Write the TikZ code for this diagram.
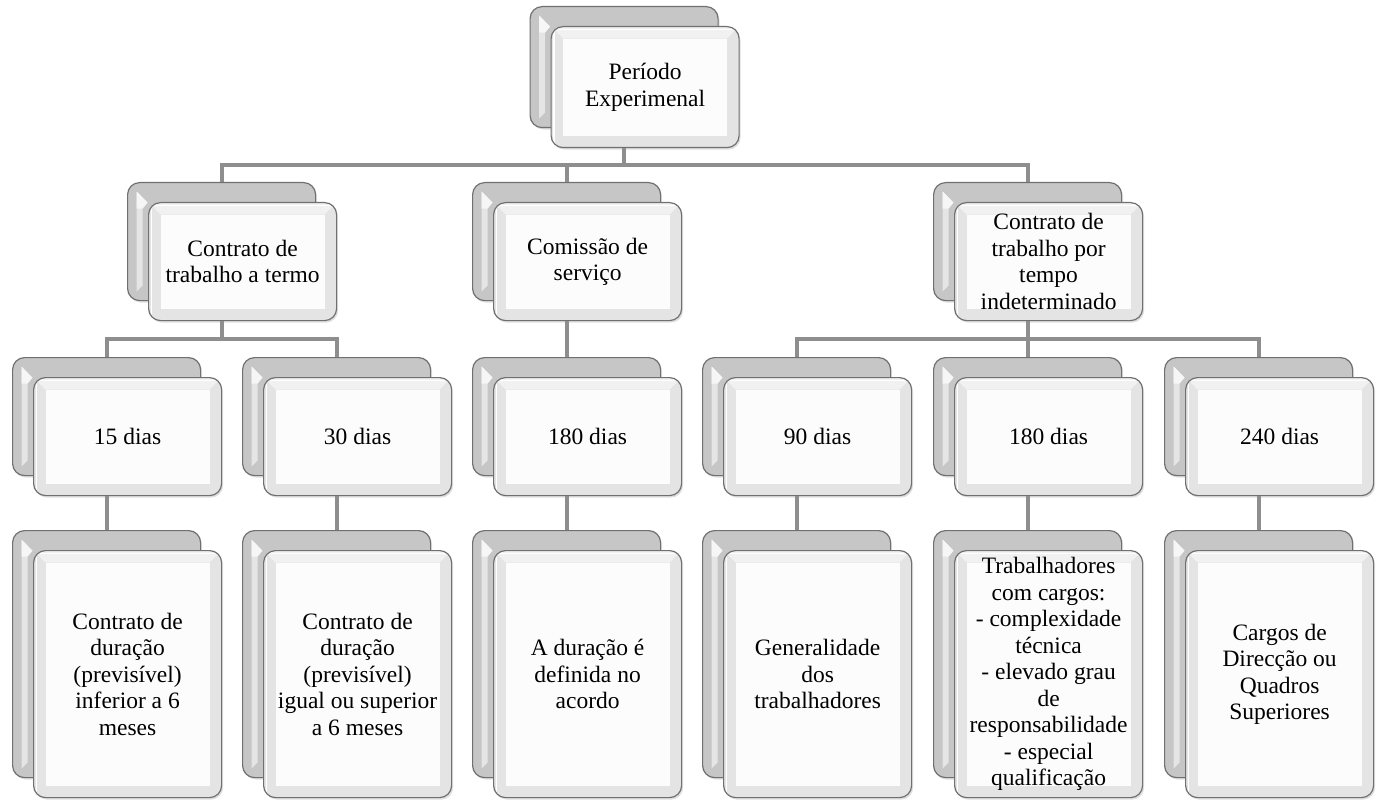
\documentclass[tikz,border=0pt]{standalone}
\usepackage{fontspec}
\setmainfont{Liberation Serif}
\usetikzlibrary{shadows}

\definecolor{linkgray}{HTML}{8E8E8E}
\definecolor{edgegray}{HTML}{707070}
\definecolor{backgray}{HTML}{C6C6C6}
\definecolor{bevelgray}{HTML}{E4E4E4}
\definecolor{beveltop}{HTML}{F1F1F1}
\definecolor{facegray}{HTML}{FCFCFC}

\tikzset{
  cardbase/.style={anchor=north west, rounded corners=12pt, draw=edgegray,
    line width=1.2pt, minimum width=188pt, inner sep=0pt,
    drop shadow={shadow xshift=1.5pt, shadow yshift=-2pt, opacity=.25}},
  backcard/.style={cardbase, fill=backgray,
    path picture={
      \coordinate (sw) at (path picture bounding box.south west);
      \coordinate (nw) at (path picture bounding box.north west);
      \fill[white!55!backgray, sharp corners] ([shift={(9pt,-9pt)}]nw) -- ([shift={(15pt,-15pt)}]nw)
        -- ([shift={(15pt,15pt)}]sw) -- ([shift={(9pt,9pt)}]sw) -- cycle;
      \fill[white!85!backgray, sharp corners] ([shift={(9pt,-9pt)}]nw) -- ([shift={(20pt,-20pt)}]nw)
        -- ([shift={(15pt,-26pt)}]nw) -- ([shift={(9pt,-26pt)}]nw) -- cycle;
    }},
  frontcard/.style={cardbase, fill=bevelgray, align=center,
    font=\fontsize{23.5}{26.5}\selectfont,
    path picture={
      \coordinate (sw) at (path picture bounding box.south west);
      \coordinate (nw) at (path picture bounding box.north west);
      \coordinate (ne) at (path picture bounding box.north east);
      \coordinate (se) at (path picture bounding box.south east);
      \fill[beveltop, sharp corners] (nw) -- (ne) -- ([shift={(-12pt,-12pt)}]ne)
        -- ([shift={(12pt,-12pt)}]nw) -- cycle;
      \fill[facegray, sharp corners] ([shift={(12pt,12pt)}]sw) rectangle ([shift={(-12pt,-12pt)}]ne);
      \draw[white, line width=1.5pt, sharp corners] ([shift={(3pt,3pt)}]sw) -- ([shift={(3pt,-3pt)}]nw)
        -- ([shift={(-3pt,-3pt)}]ne);
    }},
  link/.style={draw=linkgray, line width=4pt},
}

\begin{document}
\begin{tikzpicture}[x=1pt,y=-1pt]
\useasboundingbox (0,0) rectangle (1384,805);
\coordinate (bus1) at (0,165);
\coordinate (bus2) at (0,339);

% level 1
\node[backcard, minimum height=121pt] (pe-bk) at (529.5,6) {};
\node[frontcard, minimum height=121pt] (pe) at ([shift={(21pt,-20pt)}]pe-bk.north west) {Período\\Experimenal};

% level 2
\node[backcard, minimum height=118pt] (ctt-bk) at (127,182) {};
\node[frontcard, minimum height=118pt] (ctt) at ([shift={(21pt,-20pt)}]ctt-bk.north west) {Contrato de\\trabalho a termo};
\node[backcard, minimum height=118pt] (cs-bk) at (472,182) {};
\node[frontcard, minimum height=118pt] (cs) at ([shift={(21pt,-20pt)}]cs-bk.north west) {Comissão de\\serviço};
\node[backcard, minimum height=118pt] (cti-bk) at (933,182) {};
\node[frontcard, minimum height=118pt] (cti) at ([shift={(21pt,-20pt)}]cti-bk.north west) {Contrato de\\trabalho por\\tempo\\indeterminado};

% level 3
\node[backcard, minimum height=118pt] (d15-bk) at (12,357) {};
\node[frontcard, minimum height=118pt] (d15) at ([shift={(21pt,-20pt)}]d15-bk.north west) {15 dias};
\node[backcard, minimum height=118pt] (d30-bk) at (242,357) {};
\node[frontcard, minimum height=118pt] (d30) at ([shift={(21pt,-20pt)}]d30-bk.north west) {30 dias};
\node[backcard, minimum height=118pt] (d180c-bk) at (472,357) {};
\node[frontcard, minimum height=118pt] (d180c) at ([shift={(21pt,-20pt)}]d180c-bk.north west) {180 dias};
\node[backcard, minimum height=118pt] (d90-bk) at (702,357) {};
\node[frontcard, minimum height=118pt] (d90) at ([shift={(21pt,-20pt)}]d90-bk.north west) {90 dias};
\node[backcard, minimum height=118pt] (d180-bk) at (933,357) {};
\node[frontcard, minimum height=118pt] (d180) at ([shift={(21pt,-20pt)}]d180-bk.north west) {180 dias};
\node[backcard, minimum height=118pt] (d240-bk) at (1164,357) {};
\node[frontcard, minimum height=118pt] (d240) at ([shift={(21pt,-20pt)}]d240-bk.north west) {240 dias};

% level 4
\node[backcard, minimum height=247pt] (t15-bk) at (12,530) {};
\node[frontcard, minimum height=247pt] (t15) at ([shift={(21pt,-20pt)}]t15-bk.north west) {Contrato de\\duração\\(previsível)\\inferior a 6\\meses};
\node[backcard, minimum height=247pt] (t30-bk) at (242,530) {};
\node[frontcard, minimum height=247pt] (t30) at ([shift={(21pt,-20pt)}]t30-bk.north west) {Contrato de\\duração\\(previsível)\\igual ou superior\\a 6 meses};
\node[backcard, minimum height=247pt] (t180c-bk) at (472,530) {};
\node[frontcard, minimum height=247pt] (t180c) at ([shift={(21pt,-20pt)}]t180c-bk.north west) {A duração é\\definida no\\acordo};
\node[backcard, minimum height=247pt] (t90-bk) at (702,530) {};
\node[frontcard, minimum height=247pt] (t90) at ([shift={(21pt,-20pt)}]t90-bk.north west) {Generalidade\\dos\\trabalhadores};
\node[backcard, minimum height=247pt] (t180-bk) at (933,530) {};
\node[frontcard, minimum height=247pt] (t180) at ([shift={(21pt,-20pt)}]t180-bk.north west) {Trabalhadores\\com cargos:\\- complexidade\\técnica\\- elevado grau\\de\\responsabilidade\\- especial\\qualificação};
\node[backcard, minimum height=247pt] (t240-bk) at (1164,530) {};
\node[frontcard, minimum height=247pt] (t240) at ([shift={(21pt,-20pt)}]t240-bk.north west) {Cargos de\\Direcção ou\\Quadros\\Superiores};

% connectors
\draw[link] (pe-bk |- pe.south) -- (pe-bk |- bus1);
\draw[link] (ctt-bk.north) |- (cti-bk |- bus1) -- (cti-bk.north);
\draw[link] (cs-bk |- bus1) -- (cs-bk.north);
\draw[link] (ctt-bk |- ctt.south) -- (ctt-bk |- bus2);
\draw[link] (d15-bk.north) |- (d30-bk |- bus2) -- (d30-bk.north);
\draw[link] (cs-bk |- cs.south) -- (d180c-bk.north);
\draw[link] (cti-bk |- cti.south) -- (cti-bk |- bus2);
\draw[link] (d90-bk.north) |- (d240-bk |- bus2) -- (d240-bk.north);
\draw[link] (d180-bk |- bus2) -- (d180-bk.north);
\foreach \n in {15,30,180c,90,180,240}
  \draw[link] (d\n-bk |- d\n.south) -- (t\n-bk.north);

\end{tikzpicture}
\end{document}
